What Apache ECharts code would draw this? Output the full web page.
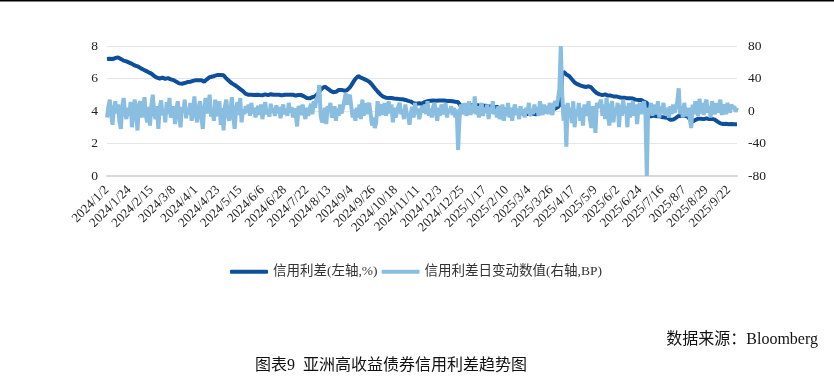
<!DOCTYPE html>
<html><head><meta charset="utf-8">
<script src="https://cdn.jsdelivr.net/npm/echarts@6/dist/echarts.min.js"></script>
<style>html,body{margin:0;padding:0;background:#fff}#c{width:834px;height:380px}</style>
</head><body><div id="c"></div>
<script>
// Trading-day categories: weekdays from startDate to endDate, excluding holidays
const startDate = '2024-01-02';
const endDate = '2025-09-30';
const holidays = ['2025-01-01'];

const seriesNames = ['信用利差(左轴,%)', '信用利差日变动数值(右轴,BP)'];
const leftTicks = [0, 8, 2];
const rightTicks = [-80, 80, 40];

// 信用利差 (%), one value per trading day
const spread = [
7.2,7.18,7.22,7.25,7.2,7.23,7.26,7.28,7.3,7.27,
7.2,7.15,7.1,7.08,7.05,7.0,6.98,6.95,6.9,6.85,
6.8,6.78,6.75,6.7,6.65,6.6,6.55,6.5,6.47,6.42,
6.38,6.35,6.3,6.22,6.15,6.08,6.05,6.02,6.0,6.03,
6.05,6.02,5.98,6.0,6.02,5.98,5.95,5.92,5.9,5.85,
5.8,5.75,5.7,5.68,5.68,5.7,5.72,5.75,5.78,5.8,
5.8,5.82,5.85,5.87,5.9,5.92,5.9,5.88,5.9,5.85,
5.8,5.85,5.95,6.02,6.08,6.1,6.12,6.15,6.18,6.2,
6.22,6.24,6.22,6.25,6.2,6.1,6.0,5.9,5.85,5.78,
5.7,5.65,5.6,5.55,5.48,5.42,5.35,5.3,5.22,5.15,
5.05,5.02,5.0,4.98,5.0,5.02,4.98,4.95,5.0,5.02,
4.98,4.95,4.97,5.0,5.02,5.0,4.98,5.0,5.03,5.02,
5.0,4.98,5.0,5.02,5.0,4.98,4.96,4.98,5.0,5.02,
5.0,4.98,5.0,5.02,5.0,4.97,4.95,4.97,4.98,5.0,
4.98,4.95,4.9,4.85,4.8,4.78,4.78,4.82,4.85,4.88,
4.9,4.95,5.05,5.2,5.3,5.4,5.48,5.5,5.45,5.38,
5.3,5.25,5.2,5.15,5.13,5.18,5.25,5.3,5.33,5.3,
5.28,5.25,5.27,5.28,5.35,5.45,5.58,5.7,5.85,5.98,
6.08,6.15,6.12,6.05,6.0,5.98,5.95,5.9,5.85,5.8,
5.72,5.62,5.5,5.4,5.3,5.2,5.1,5.02,4.95,4.88,
4.85,4.82,4.8,4.8,4.78,4.8,4.78,4.77,4.78,4.75,
4.72,4.73,4.74,4.72,4.7,4.68,4.65,4.62,4.6,4.58,
4.52,4.48,4.45,4.45,4.47,4.48,4.46,4.45,4.5,4.55,
4.58,4.6,4.62,4.63,4.62,4.64,4.65,4.63,4.62,4.64,
4.66,4.65,4.63,4.64,4.65,4.62,4.6,4.62,4.63,4.6,
4.58,4.57,4.58,4.55,4.45,4.3,4.32,4.35,4.33,4.3,
4.32,4.35,4.37,4.35,4.33,4.35,4.37,4.36,4.34,4.33,
4.35,4.33,4.3,4.32,4.3,4.28,4.3,4.28,4.27,4.26,
4.27,4.25,4.22,4.18,4.15,4.13,4.12,4.08,4.04,4.0,
3.98,3.96,3.95,3.93,3.9,3.92,3.9,3.88,3.85,3.86,
3.84,3.82,3.85,3.83,3.82,3.8,3.82,3.84,3.82,3.8,
3.83,3.86,3.9,3.92,3.95,3.97,3.98,4.0,4.02,4.05,
4.06,4.08,4.1,4.15,4.2,4.25,4.3,4.45,6.2,6.42,
6.35,6.25,6.2,6.15,6.1,5.95,5.85,5.75,5.7,5.65,
5.6,5.58,5.55,5.52,5.5,5.48,5.5,5.52,5.5,5.45,
5.35,5.25,5.15,5.1,5.05,5.02,5.0,4.98,5.0,5.02,
4.98,4.95,4.97,4.95,4.92,4.9,4.88,4.9,4.88,4.85,
4.85,4.82,4.8,4.82,4.8,4.78,4.8,4.78,4.75,4.77,
4.72,4.7,4.7,4.68,4.66,4.68,4.62,4.57,4.55,4.52,
3.72,3.7,3.68,3.7,3.72,3.7,3.68,3.66,3.68,3.65,
3.63,3.62,3.6,3.62,3.58,3.52,3.46,3.45,3.47,3.5,
3.58,3.65,3.7,3.72,3.7,3.68,3.7,3.72,3.7,3.65,
3.5,3.4,3.35,3.38,3.45,3.5,3.53,3.55,3.52,3.5,
3.5,3.52,3.55,3.53,3.5,3.48,3.52,3.5,3.47,3.45,
3.35,3.26,3.24,3.22,3.2,3.2,3.21,3.19,3.18,3.2,
3.2,3.19,3.18,3.2,3.19
];

// 信用利差日变动数值 (BP)
const dailyChange = [
-8,5,14,-5,-17,3,12,-3,8,-14,
-22,6,16,-2,-10,4,-6,11,-20,2,
14,-4,-24,7,12,-8,3,17,-6,-14,
5,-18,8,20,-3,-10,6,-22,4,13,
-5,2,-14,11,-4,16,-8,-2,6,-16,
3,12,-6,-20,5,-2,14,-9,4,-4,
10,-12,2,18,-5,-14,4,12,-6,-22,
2,16,-3,8,20,-7,3,-12,14,-2,
-6,12,-17,4,-24,6,14,-4,-12,2,
17,-8,-22,3,11,-5,16,-14,2,-4,
6,-2,8,-6,10,-3,4,-8,2,6,
-5,8,-10,3,11,-4,2,-7,9,-2,
4,-6,7,-3,5,-9,2,8,-4,3,
-6,10,-2,5,-8,3,-4,-19,6,2,
-5,8,-3,-10,4,-6,2,9,-4,12,
4,15,18,32,-6,-14,-10,4,-16,6,
2,10,-8,-4,6,-12,3,-6,8,-3,
4,12,22,8,16,20,6,-8,2,-12,
4,-8,8,-10,14,-6,10,-4,6,10,
-4,-18,-8,-21,-14,12,-6,3,8,-5,
10,-6,2,12,-3,8,-14,4,-8,-8,
6,10,-4,2,-10,8,-3,-6,-17,-2,
5,-8,10,-4,3,-10,-12,6,-2,8,
-4,12,-6,3,-8,5,10,-3,-12,4,
-6,8,2,-4,10,-8,3,-2,6,-5,
4,-8,2,-48,-10,8,6,-4,10,-6,
3,12,-5,8,-3,18,-4,6,-8,3,
10,-6,4,-2,8,-10,5,-3,12,-4,
2,-8,6,-10,-4,8,-12,3,-6,10,
-8,4,-12,2,8,-5,3,-10,6,-4,
2,-8,4,-3,10,-6,2,-4,8,-2,
5,-6,12,2,-5,8,-3,6,-4,10,
3,-5,8,12,6,15,27,80,22,-12,
8,-44,10,-8,4,-15,12,-20,2,-6,
10,-12,4,-18,8,2,-6,12,-10,-21,
6,-8,-27,10,4,2,14,-6,8,-10,
16,-4,-18,6,12,-14,4,-2,10,-20,
8,-6,14,-3,6,-20,10,-8,2,12,
-6,8,-16,4,10,-4,6,12,-2,-80,
4,-2,10,-6,8,2,-4,12,-8,6,
-3,10,-5,4,2,-8,6,-4,8,-2,
4,12,28,-4,6,-8,10,-2,-6,4,
-10,-21,8,-4,12,2,-6,15,-3,10,
-5,8,14,-2,6,-8,12,4,-4,10,
-2,6,14,-5,8,2,-4,10,4,-2,
8,3,6,-1,4
];

function buildDates(s, e, skip) {
  const out = [];
  const d = new Date(s + 'T00:00:00Z');
  const end = new Date(e + 'T00:00:00Z');
  while (d <= end) {
    const wd = d.getUTCDay();
    const iso = d.toISOString().slice(0, 10);
    if (wd !== 0 && wd !== 6 && skip.indexOf(iso) < 0) {
      out.push(d.getUTCFullYear() + '/' + (d.getUTCMonth() + 1) + '/' + d.getUTCDate());
    }
    d.setUTCDate(d.getUTCDate() + 1);
  }
  return out;
}
const categories = buildDates(startDate, endDate, holidays);

const serif = "'Liberation Serif','Times New Roman','Noto Sans CJK SC',serif";
const cjk = "'Liberation Serif','Noto Sans CJK SC',serif";

const chart = echarts.init(document.getElementById('c'), null, {renderer: 'canvas'});
chart.setOption({
  backgroundColor: '#fff',
  animation: false,
  grid: {left: 107, right: 97, top: 46, bottom: 204, containLabel: false},
  legend: {
    data: seriesNames,
    left: 225, top: 260,
    icon: 'roundRect', itemWidth: 38, itemHeight: 4, itemGap: 4,
    textStyle: {fontFamily: cjk, fontSize: 13.5, color: '#333'}
  },
  xAxis: {
    type: 'category', data: categories, boundaryGap: false,
    axisLine: {lineStyle: {color: '#d9d9d9', width: 2}},
    axisTick: {show: false},
    axisLabel: {interval: 15, rotate: 45, fontFamily: serif, fontSize: 13, color: '#222', margin: 12}
  },
  yAxis: [{
    type: 'value', min: leftTicks[0], max: leftTicks[1], interval: leftTicks[2],
    axisLine: {show: false}, axisTick: {show: false},
    splitLine: {lineStyle: {color: '#e6e6e6', width: 1}},
    axisLabel: {fontFamily: serif, fontSize: 13.5, color: '#222', margin: 9}
  }, {
    type: 'value', min: rightTicks[0], max: rightTicks[1], interval: rightTicks[2],
    axisLine: {show: false}, axisTick: {show: false}, splitLine: {show: false},
    axisLabel: {fontFamily: serif, fontSize: 13.5, color: '#222', margin: 11}
  }],
  series: [{
    name: seriesNames[0], type: 'line', yAxisIndex: 0, data: spread,
    symbol: 'none', lineStyle: {color: '#0d4f9b', width: 4}, itemStyle: {color: '#0d4f9b'}
  }, {
    name: seriesNames[1], type: 'line', yAxisIndex: 1, data: dailyChange,
    symbol: 'none', lineStyle: {color: '#8abee0', width: 4}, itemStyle: {color: '#8abee0'}
  }],
  graphic: [
    {type: 'rect', left: 0, top: 0, shape: {width: 834, height: 1.5}, style: {fill: '#000'}},
    {type: 'text', right: 16, top: 332, style: {text: '数据来源：Bloomberg', font: "16px " + cjk, fill: '#111'}},
    {type: 'text', left: 255, top: 358, style: {text: '图表9  亚洲高收益债券信用利差趋势图', font: "16px " + cjk, fill: '#111'}}
  ]
});
</script></body></html>
